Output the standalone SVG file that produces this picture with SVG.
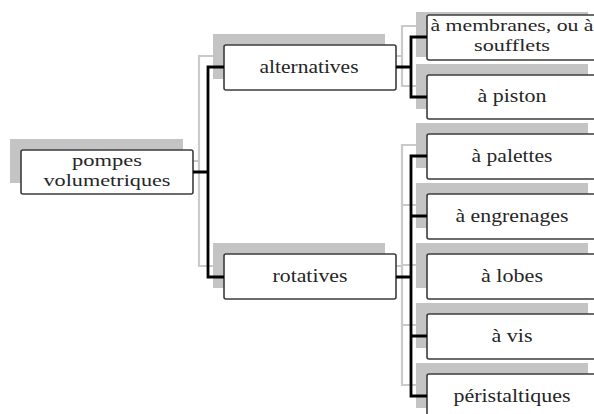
<svg xmlns="http://www.w3.org/2000/svg" width="594" height="414" viewBox="0 0 594 414">
<style>
.sh{fill:#c4c4c4}
.bx{fill:#fff;stroke:#3c3c3c;stroke-width:1.6}
.t{font-family:'Times New Roman','Liberation Serif','DejaVu Serif',serif;font-size:18px;fill:#262626;text-anchor:middle}
.s17{font-size:17px}
.gl{fill:none;stroke:#cacaca;stroke-width:2.2}
.bl{fill:none;stroke:#000;stroke-width:2.8}
</style>
<rect width="594" height="414" fill="#fff"/>
<g id="connectors-shadow">
<path class="gl" d="M183 161H199M213 56H199V266H213"/>
<path class="gl" d="M385 56H402M416 26H402V86H416"/>
<path class="gl" d="M385 266H402M416 145H402V385H416M402 205H416M402 265H416M402 325H416"/>
</g>
<g id="n-pompes">
<rect class="sh" x="10" y="139" width="173" height="44"/>
<rect class="bx" x="21" y="150" width="172" height="44" rx="2"/>
<text class="t s17" x="107" y="166" textLength="70" lengthAdjust="spacingAndGlyphs">pompes</text>
<text class="t s17" x="107" y="186" textLength="127" lengthAdjust="spacingAndGlyphs">volumetriques</text>
</g>
<g id="n-alternatives">
<rect class="sh" x="213" y="34" width="172" height="45"/>
<rect class="bx" x="224" y="45" width="172" height="45" rx="2"/>
<text class="t" x="309" y="73" textLength="99" lengthAdjust="spacingAndGlyphs">alternatives</text>
</g>
<g id="n-rotatives">
<rect class="sh" x="213" y="243" width="172" height="45"/>
<rect class="bx" x="224" y="254" width="172" height="45" rx="2"/>
<text class="t" x="310" y="282" textLength="75" lengthAdjust="spacingAndGlyphs">rotatives</text>
</g>
<g id="n-membranes">
<rect class="sh" x="416" y="12" width="172" height="45"/>
<rect class="bx" x="427" y="15" width="172" height="45" rx="2"/>
<text class="t s17" x="512" y="31" textLength="163" lengthAdjust="spacingAndGlyphs">à membranes, ou à</text>
<text class="t s17" x="512" y="51" textLength="76" lengthAdjust="spacingAndGlyphs">soufflets</text>
</g>
<g id="n-piston">
<rect class="sh" x="416" y="64" width="172" height="45"/>
<rect class="bx" x="427" y="75" width="172" height="44" rx="2"/>
<text class="t" x="512" y="102" textLength="69" lengthAdjust="spacingAndGlyphs">à piston</text>
</g>
<g id="n-palettes">
<rect class="sh" x="416" y="123" width="172" height="45"/>
<rect class="bx" x="427" y="134" width="172" height="45" rx="2"/>
<text class="t" x="512" y="162" textLength="81" lengthAdjust="spacingAndGlyphs">à palettes</text>
</g>
<g id="n-engrenages">
<rect class="sh" x="416" y="183" width="172" height="45"/>
<rect class="bx" x="427" y="194" width="172" height="45" rx="2"/>
<text class="t" x="512" y="222" textLength="113" lengthAdjust="spacingAndGlyphs">à engrenages</text>
</g>
<g id="n-lobes">
<rect class="sh" x="416" y="243" width="172" height="45"/>
<rect class="bx" x="427" y="254" width="172" height="45" rx="2"/>
<text class="t" x="512" y="282" textLength="62" lengthAdjust="spacingAndGlyphs">à lobes</text>
</g>
<g id="n-vis">
<rect class="sh" x="416" y="303" width="172" height="45"/>
<rect class="bx" x="427" y="314" width="172" height="45" rx="2"/>
<text class="t" x="512" y="342" textLength="41" lengthAdjust="spacingAndGlyphs">à vis</text>
</g>
<g id="n-peristaltiques">
<rect class="sh" x="416" y="363" width="172" height="45"/>
<rect class="bx" x="427" y="374" width="172" height="45" rx="2"/>
<text class="t" x="512" y="402" textLength="117" lengthAdjust="spacingAndGlyphs">péristaltiques</text>
</g>
<g id="connectors">
<path class="bl" d="M193 172H208M224 67H208V277H224"/>
<path class="bl" d="M396 67H411M427 37H411V97H427"/>
<path class="bl" d="M396 277H411M427 156H411V396H427M411 216H427M411 336H427"/>
</g>
</svg>
